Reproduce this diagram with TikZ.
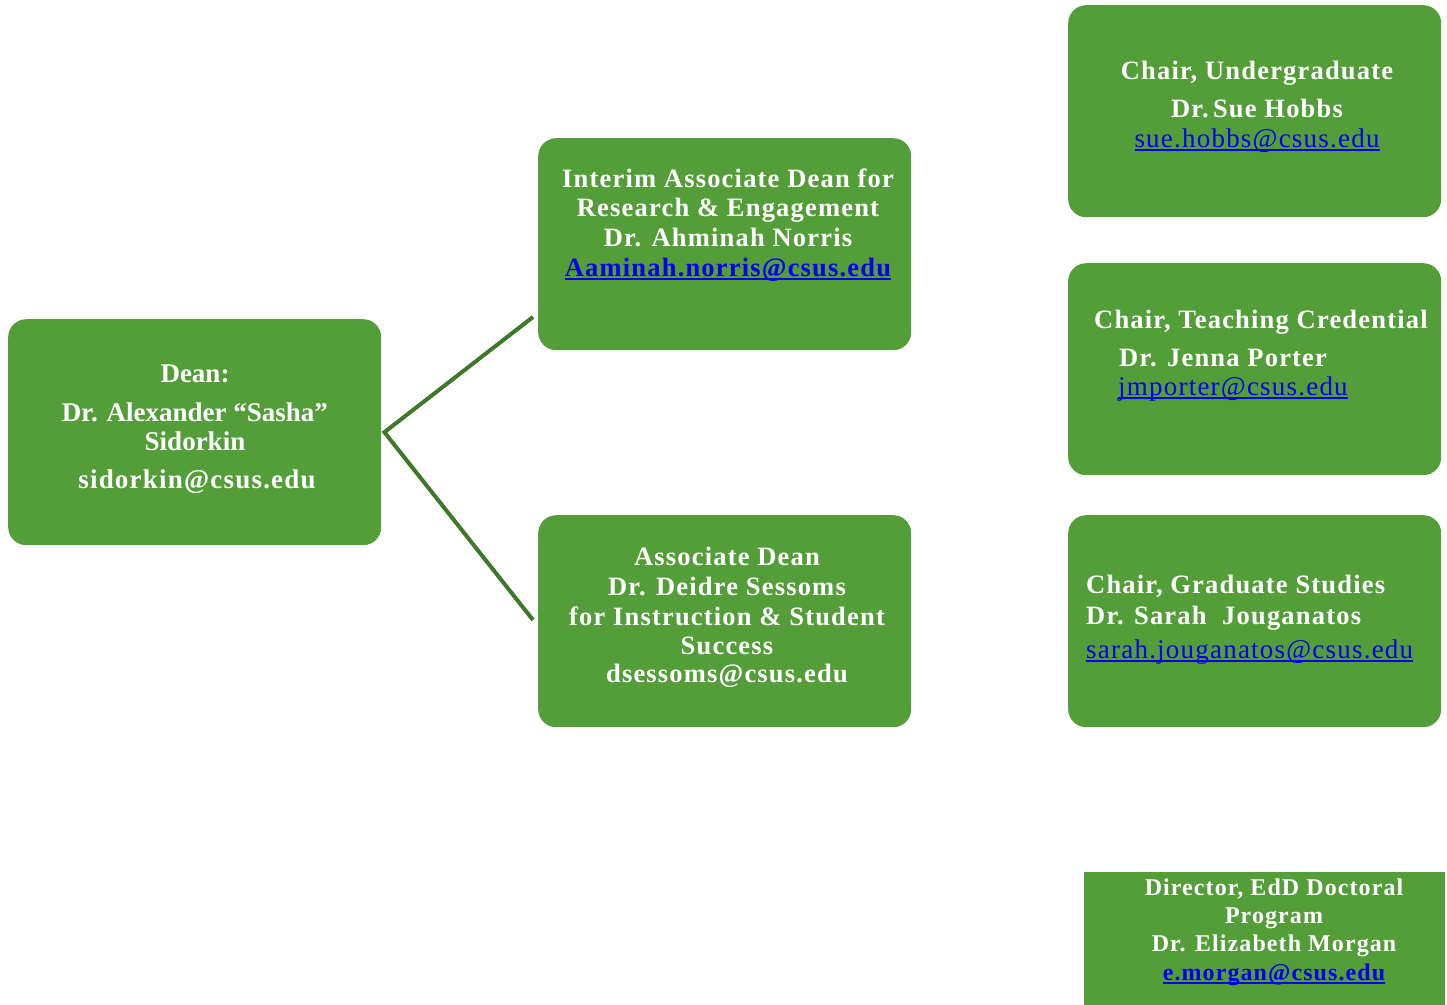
\documentclass[tikz,border=0pt]{standalone}
\usepackage{fontspec}
\setmainfont{Liberation Serif}
\newfontfamily\lsp{Liberation Serif}[LetterSpace=4.5]
\newsavebox\ulbox
\newcommand\ulink[1]{\sbox\ulbox{#1}\rlap{\rule[-3.5pt]{\wd\ulbox}{2pt}}\usebox\ulbox}
\definecolor{boxgreen}{RGB}{84,158,58}
\definecolor{linegreen}{RGB}{62,120,42}
\definecolor{linkblue}{RGB}{0,0,240}
\tikzset{
  box/.style={draw=none, fill=boxgreen, rounded corners=18pt, anchor=north west,
    minimum width=373pt, minimum height=212pt, inner sep=0pt},
  sqbox/.style={draw=none, fill=boxgreen, anchor=north west, inner sep=0pt},
  conn/.style={draw=linegreen, line width=4pt},
  deantxt/.style={text=white, anchor=base, inner sep=0pt, font=\fontsize{27}{30}\selectfont\bfseries},
  txt/.style={text=white, anchor=base, inner sep=0pt, font=\fontsize{26.5}{30}\selectfont\bfseries\lsp},
  ltxt/.style={txt, anchor=base west},
  mail/.style={text=linkblue, anchor=base, inner sep=0pt, font=\fontsize{27}{30}\selectfont\lsp},
  lmail/.style={mail, anchor=base west},
  bmail/.style={text=linkblue, anchor=base, inner sep=0pt, font=\fontsize{26.5}{30}\selectfont\bfseries\lsp},
  dtxt/.style={text=white, anchor=base, inner sep=0pt, font=\fontsize{24}{28}\selectfont\bfseries\lsp},
  dmail/.style={text=linkblue, anchor=base, inner sep=0pt, font=\fontsize{24}{28}\selectfont\bfseries\lsp}
}
\begin{document}
\begin{tikzpicture}[x=1pt,y=-1pt]
\useasboundingbox (0,0) rectangle (1447,1004);
% boxes
\node[box, minimum height=226pt] (dean) at (8,319) {};
\node[box] (rd) at (538,138) {};
\node[box] (is) at (538,515) {};
\node[box] (ug) at (1068,5) {};
\node[box] (tc) at (1068,263) {};
\node[box] (gs) at (1068,515) {};
\node[sqbox, minimum width=361pt, minimum height=140pt] (edd) at (1084,872) {};
% connectors
\coordinate (j) at ([xshift=3pt]dean.east);
\coordinate (e1) at ([xshift=-5pt]rd.west |- 0,317);
\coordinate (e2) at ([xshift=-5pt]is.west |- 0,620);
\draw[conn] (e1) -- (j) -- (e2);
% dean text
\node[deantxt] (d1) at (195,382) {Dean:};
\node[deantxt] (d2) at (195,421) {Dr. Alexander “Sasha”};
\node[deantxt] (d3) at (195,450) {Sidorkin};
\node[deantxt, font=\fontsize{27}{30}\selectfont\bfseries\lsp] (d4) at (197,488) {sidorkin@csus.edu};
% research
\node[txt] (r1) at (728,187) {Interim Associate Dean for};
\node[txt] (r2) at (728,216) {Research \& Engagement};
\node[txt] (r3) at (728,246) {Dr. Ahminah Norris};
\node[bmail] (r4) at (728,276) {\ulink{Aaminah.norris@csus.edu}};
% instruction
\node[txt] (i1) at (727,565) {Associate Dean};
\node[txt] (i2) at (727,595) {Dr. Deidre Sessoms};
\node[txt] (i3) at (727,625) {for Instruction \& Student};
\node[txt] (i4) at (727,654) {Success};
\node[txt] (i5) at (727,682) {dsessoms@csus.edu};
% undergraduate
\node[txt] (u1) at (1257,79) {Chair, Undergraduate};
\node[txt] (u2) at (1257,117) {Dr.\,Sue Hobbs};
\node[mail] (u3) at (1257,147) {\ulink{sue.hobbs@csus.edu}};
% teaching credential
\node[ltxt] (t1) at (1094,328) {Chair, Teaching Credential};
\node[ltxt] (t2) at (1119,366) {Dr. Jenna Porter};
\node[lmail] (t3) at (1118,395) {\ulink{jmporter@csus.edu}};
% graduate
\node[ltxt] (g1) at (1086,593) {Chair, Graduate Studies};
\node[ltxt] (g2) at (1086,624) {Dr. Sarah\ \ Jouganatos};
\node[lmail] (g3) at (1086,658) {\ulink{sarah.jouganatos@csus.edu}};
% doctoral
\node[dtxt] (x1) at (1274,895) {Director, EdD Doctoral};
\node[dtxt] (x2) at (1274,923) {Program};
\node[dtxt] (x3) at (1274,951) {Dr. Elizabeth Morgan};
\node[dmail] (x4) at (1274,980) {\ulink{e.morgan@csus.edu}};
\end{tikzpicture}
\end{document}
